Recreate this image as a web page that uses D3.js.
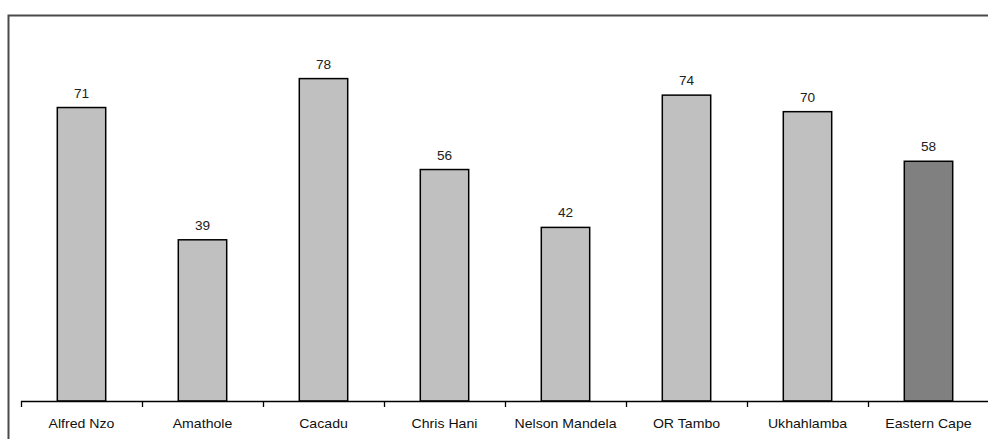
<!DOCTYPE html>
<html><head><meta charset="utf-8">
<script src="https://cdn.jsdelivr.net/npm/d3@7"></script>
<style>body{margin:0;background:#fff}svg{display:block}</style>
</head><body>
<script>
const categories = ["Alfred Nzo","Amathole","Cacadu","Chris Hani","Nelson Mandela","OR Tambo","Ukhahlamba","Eastern Cape"];
const values = [71,39,78,56,42,74,70,58];
const highlight = ["Eastern Cape"];

const W = 988, H = 439;
const svg = d3.select("body").append("svg").attr("width", W).attr("height", H);

// frame (left and top edges visible)
svg.append("path").attr("d", "M8.5,445 V15.5 H990").attr("fill","none").attr("stroke","#4a4a4a").attr("stroke-width",2);

const x = d3.scaleBand().domain(categories).range([21, 21 + 121*8]).paddingInner(0.6).paddingOuter(0.3);
const y = d3.scaleLinear().domain([0, 90]).range([401, 29]);

svg.selectAll("rect.bar").data(categories).join("rect")
  .attr("x", d => x(d)).attr("width", x.bandwidth())
  .attr("y", (d,i) => y(values[i])).attr("height", (d,i) => y(0) - y(values[i]))
  .attr("fill", d => highlight.includes(d) ? "#808080" : "#c0c0c0")
  .attr("stroke", "#000").attr("stroke-width", 1.5);

svg.selectAll("text.val").data(categories).join("text")
  .attr("transform", (d,i) => `translate(${x(d) + x.bandwidth()/2},${y(values[i]) - 10}) scale(1.05,1)`)
  .attr("text-anchor","middle").attr("font-family","Liberation Sans, Arial, sans-serif").attr("font-size", 13).attr("fill","#222")
  .text((d,i) => values[i]);

// axis
const step = 121;
svg.append("line").attr("x1",21).attr("x2",W).attr("y1",401.5).attr("y2",401.5).attr("stroke","#000").attr("stroke-width",1.3);
svg.selectAll("line.tick").data(d3.range(categories.length+1)).join("line")
  .attr("x1", i => 21.5 + i*step).attr("x2", i => 21.5 + i*step)
  .attr("y1", 401).attr("y2", 407).attr("stroke","#000").attr("stroke-width",1.3);

svg.selectAll("text.cat").data(categories).join("text")
  .attr("transform", d => `translate(${x(d) + x.bandwidth()/2},428) scale(1.13,1)`)
  .attr("text-anchor","middle").attr("font-family","Liberation Sans, Arial, sans-serif").attr("font-size", 12.5).attr("fill","#111")
  .text(d => d);
</script>
</body></html>
